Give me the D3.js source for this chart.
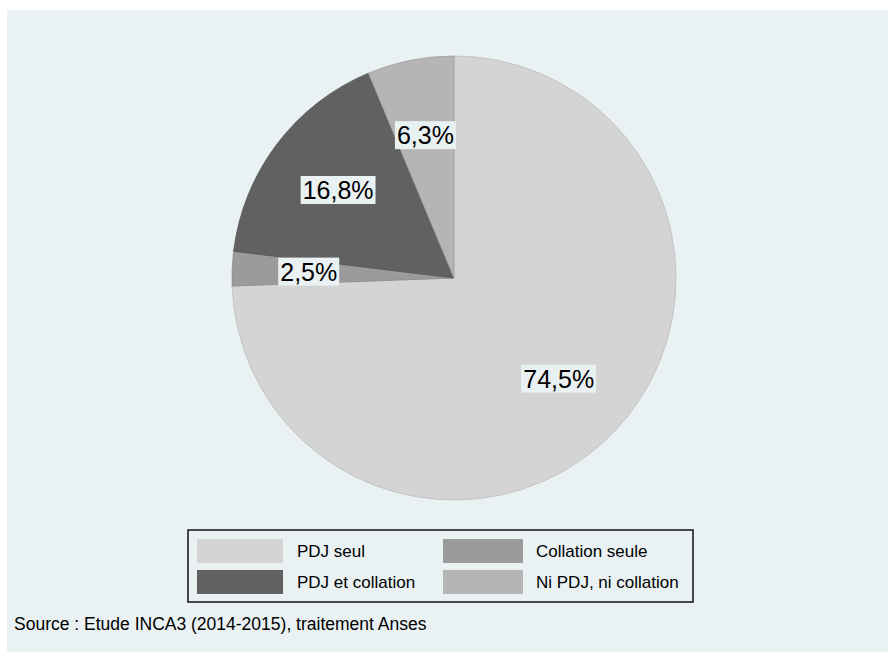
<!DOCTYPE html>
<html>
<head>
<meta charset="utf-8">
<script src="https://cdn.jsdelivr.net/npm/d3@7"></script>
<style>
  body { margin: 0; background: #fff; }
  svg { display: block; font-family: "Liberation Sans", Arial, sans-serif; }
</style>
</head>
<body>
<script>
// slice order, clockwise from 12 o'clock
const categories = ['PDJ seul', 'Collation seule', 'PDJ et collation', 'Ni PDJ, ni collation'];
const shares = [74.5, 2.5, 16.8, 6.3];
const labels = ['74,5%', '2,5%', '16,8%', '6,3%'];
const colors = ['#d4d4d4', '#9b9b9b', '#616161', '#b5b5b5'];
const sourceNote = 'Source : Etude INCA3 (2014-2015), traitement Anses';

function renderPie() {
  const width = 888;
  const height = 652;
  const bg = '#e9f1f3';
  const cx = 454, cy = 278, radius = 222;

  const svg = d3.select('body')
    .append('svg')
    .attr('width', width)
    .attr('height', height);

  // graph region background
  svg.append('rect')
    .attr('x', 7).attr('y', 10)
    .attr('width', width - 7).attr('height', height - 10)
    .attr('fill', bg);

  const pie = d3.pie().sort(null).value((d) => d);
  const arcs = pie(shares);

  const arc = d3.arc().innerRadius(0).outerRadius(radius);
  const labelArc = d3.arc().innerRadius(radius * 0.655).outerRadius(radius * 0.655);

  const g = svg.append('g')
    .attr('transform', `translate(${cx}, ${cy})`);

  g.selectAll('path')
    .data(arcs)
    .join('path')
    .attr('d', arc)
    .attr('fill', (d, i) => colors[i])
    .attr('stroke', (d, i) => d3.color(colors[i]).darker(0.35))
    .attr('stroke-width', 0.8);

  // percentage labels with background boxes
  const lbl = g.selectAll('g.lbl')
    .data(arcs)
    .join('g')
    .attr('class', 'lbl')
    .attr('transform', (d) => `translate(${labelArc.centroid(d)})`);

  lbl.append('rect').attr('fill', bg);
  lbl.append('text')
    .attr('text-anchor', 'middle')
    .attr('dy', '0.35em')
    .attr('font-size', 25)
    .attr('fill', '#000')
    .text((d, i) => labels[i]);

  lbl.each(function () {
    const b = d3.select(this).select('text').node().getBBox();
    d3.select(this).select('rect')
      .attr('x', b.x - 2).attr('y', b.y)
      .attr('width', b.width + 4).attr('height', b.height);
  });

  // legend
  const legend = svg.append('g');
  legend.append('rect')
    .attr('x', 188).attr('y', 530)
    .attr('width', 505).attr('height', 72)
    .attr('fill', bg)
    .attr('stroke', '#111')
    .attr('stroke-width', 1.5);

  const colX = [197, 443];
  const rowY = [539, 570];
  const items = legend.selectAll('g.item')
    .data(categories)
    .join('g')
    .attr('class', 'item')
    .attr('transform', (d, i) => `translate(${colX[i % 2]}, ${rowY[Math.floor(i / 2)]})`);

  items.append('rect')
    .attr('width', (d, i) => i % 2 ? 80 : 86)
    .attr('height', 24)
    .attr('fill', (d, i) => colors[i]);

  items.append('text')
    .attr('x', (d, i) => i % 2 ? 93 : 100)
    .attr('y', 12)
    .attr('dy', '0.35em')
    .attr('font-size', 17)
    .attr('fill', '#000')
    .text((d) => d);

  svg.append('text')
    .attr('x', 14).attr('y', 630)
    .attr('font-size', 17.5)
    .attr('fill', '#000')
    .text(sourceNote);
}

renderPie();
</script>
</body>
</html>
